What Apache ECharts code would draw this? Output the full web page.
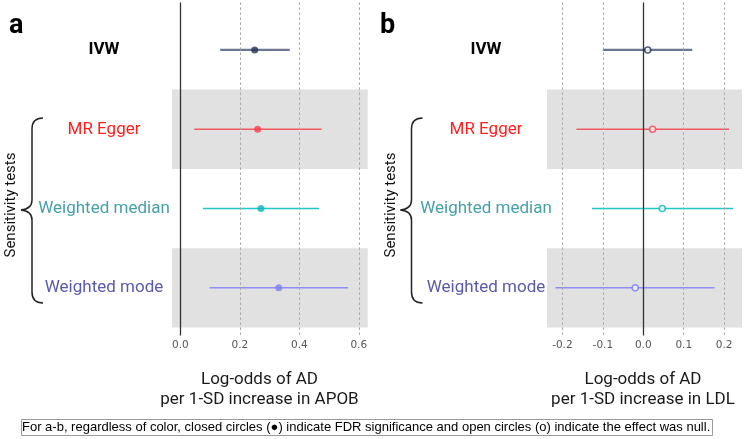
<!DOCTYPE html>
<html>
<head>
<meta charset="utf-8">
<script src="https://cdn.jsdelivr.net/npm/echarts@6/dist/echarts.min.js"></script>
<style>html,body{margin:0;padding:0;background:#fff}#c{width:750px;height:439px}</style>
</head>
<body>
<div id="c"></div>
<script>
const methods = ['IVW', 'MR Egger', 'Weighted median', 'Weighted mode'];
const rowPos = [1, 2, 3, 4];
const apobEst = [0.25, 0.26, 0.271, 0.331];
const apobLo = [0.134, 0.047, 0.076, 0.098];
const apobHi = [0.368, 0.475, 0.466, 0.564];
const ldlEst = [0.011, 0.023, 0.047, -0.02];
const ldlLo = [-0.1, -0.165, -0.127, -0.217];
const ldlHi = [0.121, 0.212, 0.222, 0.176];
const apobTicks = [0, 0.2, 0.4, 0.6];
const ldlTicks = [-0.2, -0.1, 0, 0.1, 0.2];
const shadedRows = [2, 4];

const lineColors = ['#6b7791', '#f15a5f', '#20c8c8', '#8e8ef5'];
const pointColors = ['#263352', '#fb3c4c', '#12b5b5', '#7f7fef'];
const labelColors = ['#000000', '#ff1f1f', '#45a0a8', '#5a5aaa'];
const lineWidths = [2.2, 1.5, 1.5, 1.5];

const chart = echarts.init(document.getElementById('c'), null, {renderer: 'canvas'});

const rich = {};
methods.forEach((m, i) => {
  rich['m' + i] = {color: labelColors[i], fontSize: 17, fontFamily: 'Roboto', fontWeight: i === 0 ? 'bold' : 'normal'};
});

function yAxisFor(gi, margin) {
  return {
    type: 'value', gridIndex: gi, min: 0.4, max: 4.6, inverse: true,
    axisLine: {show: false}, axisTick: {show: false}, splitLine: {show: false},
    axisLabel: {
      customValues: rowPos, margin: margin, align: 'center',
      formatter: v => { const i = rowPos.indexOf(v); return i < 0 ? '' : '{m' + i + '|' + methods[i] + '}'; },
      rich: rich
    }
  };
}
function xAxisFor(gi, min, max, ticks) {
  return {
    type: 'value', gridIndex: gi, min: min, max: max,
    axisLine: {show: false}, axisTick: {show: false}, splitLine: {show: false},
    axisLabel: {customValues: ticks, margin: 4, fontFamily: 'DejaVu Sans', fontSize: 10.5, color: '#555',
      formatter: v => v.toFixed(1)}
  };
}

const series = [];
function panelSeries(gi, est, lo, hi, ticks, open) {
  series.push({
    type: 'line', xAxisIndex: gi, yAxisIndex: gi, data: [], silent: true, z: 1,
    markArea: {silent: true, itemStyle: {color: '#e1e1e1'},
      data: shadedRows.map(r => [{yAxis: r - 0.5}, {yAxis: r + 0.5}])}
  });
  series.push({
    type: 'line', xAxisIndex: gi, yAxisIndex: gi, data: [], silent: true, z: 2,
    markLine: {silent: true, symbol: ['none', 'none'], label: {show: false}, animation: false,
      data: ticks.map(t => ({xAxis: t, lineStyle: t === 0 ? {color: '#333', width: 1.3, type: 'solid'} : {color: '#a8a8a8', width: 1, type: [2.5, 2.5]}}))}
  });
  methods.forEach((m, i) => {
    series.push({
      type: 'line', xAxisIndex: gi, yAxisIndex: gi, z: 3, symbol: 'none', silent: true,
      lineStyle: {color: lineColors[i], width: lineWidths[i]},
      data: [[lo[i], rowPos[i]], [hi[i], rowPos[i]]]
    });
    series.push({
      type: 'scatter', xAxisIndex: gi, yAxisIndex: gi, z: 4, silent: true,
      symbolSize: open ? 6 : 7,
      itemStyle: open ? {color: '#ffffff', borderColor: pointColors[i], borderWidth: 1.6} : {color: pointColors[i]},
      data: [[est[i], rowPos[i]]]
    });
  });
}
panelSeries(0, apobEst, apobLo, apobHi, apobTicks, false);
panelSeries(1, ldlEst, ldlLo, ldlHi, ldlTicks, true);

function brace(x0) {
  const s = x0, e = x0 + 11, t = x0 - 11;
  const st = {fill: null, stroke: '#222', lineWidth: 1.5};
  return {
    type: 'group',
    children: [
      {type: 'bezierCurve', shape: {x1: e, y1: 118, cpx1: s, cpy1: 118, x2: s, y2: 129}, style: st},
      {type: 'line', shape: {x1: s, y1: 129, x2: s, y2: 200}, style: st},
      {type: 'bezierCurve', shape: {x1: s, y1: 200, cpx1: s, cpy1: 209, x2: t, y2: 210}, style: st},
      {type: 'bezierCurve', shape: {x1: t, y1: 210, cpx1: s, cpy1: 211, x2: s, y2: 220}, style: st},
      {type: 'line', shape: {x1: s, y1: 220, x2: s, y2: 292}, style: st},
      {type: 'bezierCurve', shape: {x1: s, y1: 292, cpx1: s, cpy1: 303, x2: e, y2: 303}, style: st}
    ]
  };
}

const titleFont = {fontFamily: 'Roboto', fontSize: 17, color: '#1a1a1a', lineHeight: 20, fontWeight: 'normal'};

chart.setOption({
  animation: false,
  grid: [
    {left: 172, top: 2.4, width: 195.7, height: 333},
    {left: 547, top: 2.4, width: 195, height: 333}
  ],
  xAxis: [xAxisFor(0, -0.028, 0.63, apobTicks), xAxisFor(1, -0.238, 0.244, ldlTicks)],
  yAxis: [yAxisFor(0, 68), yAxisFor(1, 61)],
  title: [
    {text: 'a', left: 4, top: 8, textStyle: {fontFamily: 'Roboto', fontSize: 27, fontWeight: 'bold', color: '#000'}},
    {text: 'b', left: 375, top: 8, textStyle: {fontFamily: 'Roboto', fontSize: 27, fontWeight: 'bold', color: '#000'}},
    {text: 'Log-odds of AD\nper 1-SD increase in APOB', left: 259.5, top: 370, textAlign: 'center', padding: 0, textStyle: titleFont},
    {text: 'Log-odds of AD\nper 1-SD increase in LDL', left: 643, top: 370, textAlign: 'center', padding: 0, textStyle: titleFont},
    {text: 'For a-b, regardless of color, closed circles (\u25CF) indicate FDR significance and open circles (o) indicate the effect was null.',
      left: 21, top: 419, padding: [2, 2, 2, 1], borderColor: '#9a9a9a', borderWidth: 1, backgroundColor: '#fff',
      textStyle: {fontFamily: 'Liberation Sans', fontSize: 13, fontWeight: 'normal', color: '#000'}}
  ],
  graphic: [
    brace(32),
    brace(36.5 + 375),
    {type: 'text', x: 11, y: 205, rotation: Math.PI / 2, style: {text: 'Sensitivity tests', fontFamily: 'Roboto', fontSize: 15, fill: '#111', align: 'center', verticalAlign: 'middle'}},
    {type: 'text', x: 391, y: 205, rotation: Math.PI / 2, style: {text: 'Sensitivity tests', fontFamily: 'Roboto', fontSize: 15, fill: '#111', align: 'center', verticalAlign: 'middle'}}
  ],
  series: series
});
</script>
</body>
</html>
